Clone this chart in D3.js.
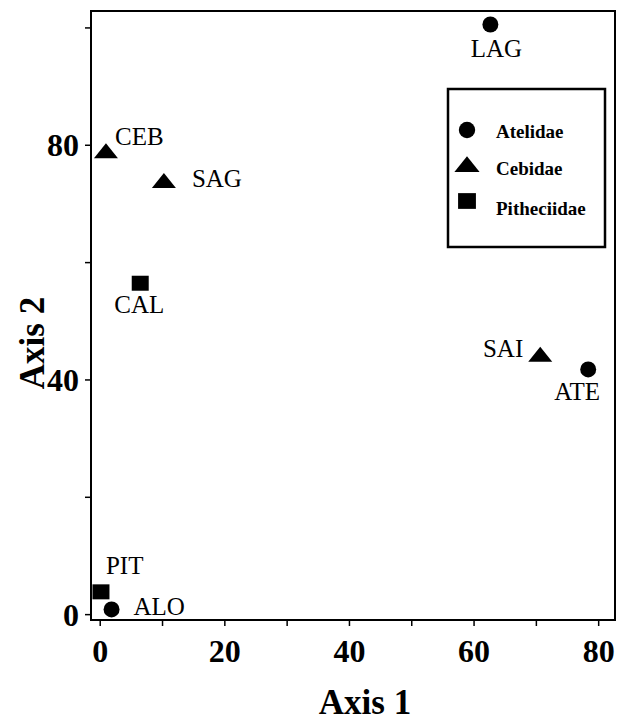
<!DOCTYPE html>
<html>
<head>
<meta charset="utf-8">
<script src="https://cdn.jsdelivr.net/npm/d3@7"></script>
<style>
  body { margin: 0; background: #fff; }
  svg { display: block; }
  text { font-family: "Liberation Serif", "Times New Roman", serif; }
</style>
</head>
<body>
<svg width="617" height="724"></svg>
<script>
"use strict";

// genera codes, axis 1 / axis 2 scores and family
var codes    = ["LAG", "CEB", "SAG", "CAL", "SAI", "ATE", "PIT", "ALO"];
var axis1    = [62.7, 1.0, 10.3, 6.5, 70.7, 78.4, 0.2, 1.9];
var axis2    = [100.5, 79.0, 73.9, 56.4, 44.3, 41.7, 3.8, 0.8];
var family   = ["Atelidae", "Cebidae", "Cebidae", "Pitheciidae", "Cebidae", "Atelidae", "Pitheciidae", "Atelidae"];
var families = ["Atelidae", "Cebidae", "Pitheciidae"];
var xTicks   = [0, 10, 20, 30, 40, 50, 60, 70, 80];
var xLabels  = [0, 20, 40, 60, 80];
var yTicks   = [0, 20, 40, 60, 80, 100];
var yLabels  = [0, 40, 80];

// where each code label sits next to its marker
var labelPlace = {
    LAG: [6, 33, "middle"], CEB: [9, -6, "start"], SAG: [28, 6, "start"],
    CAL: [-1, 30, "middle"], SAI: [-17, 3, "end"], ATE: [-11, 31, "middle"],
    PIT: [5, -18, "start"], ALO: [22, 6, "start"]
};

var serif = "Liberation Serif";
var svg = d3.select("svg");

var x = d3.scaleLinear().domain([-1.4, 82.7]).range([91, 615]);
var y = d3.scaleLinear().domain([-1, 102.8]).range([620, 11]);

// marker shapes
function shape(f, s) {
    s = s || 1;
    if (f === "Atelidae") return d3.symbol().type(d3.symbolCircle).size(200 * s)();
    if (f === "Cebidae") {
        var w = 12 * s, h = 7.5 * s;
        return "M" + (-w) + "," + h + "L0," + (-h) + "L" + w + "," + h + "Z";
    }
    var a = 8.5 * s, b = 7.5 * s;
    return "M" + (-a) + "," + (-b) + "H" + a + "V" + b + "H" + (-a) + "Z";
}

// frame
svg.append("rect")
    .attr("x", x.range()[0]).attr("y", y.range()[1])
    .attr("width", x.range()[1] - x.range()[0])
    .attr("height", y.range()[0] - y.range()[1])
    .attr("fill", "none").attr("stroke", "#000").attr("stroke-width", 2);

// axes
var xAxis = svg.append("g").attr("transform", "translate(0," + y.range()[0] + ")")
    .call(d3.axisBottom(x).tickValues(xTicks).tickSize(6).tickSizeOuter(0)
        .tickFormat(function(d){ return xLabels.indexOf(d) >= 0 ? d : ""; }));
xAxis.select(".domain").remove();
xAxis.selectAll("line").attr("stroke-width", 1.5);
xAxis.selectAll("text").attr("font-family", serif).attr("font-weight", "bold")
    .attr("font-size", 32).attr("y", 42).attr("dy", 0);

var yAxis = svg.append("g").attr("transform", "translate(" + x.range()[0] + ",0)")
    .call(d3.axisLeft(y).tickValues(yTicks).tickSize(6).tickSizeOuter(0)
        .tickFormat(function(d){ return yLabels.indexOf(d) >= 0 ? d : ""; }));
yAxis.select(".domain").remove();
yAxis.selectAll("line").attr("stroke-width", 1.5);
yAxis.selectAll("text").attr("font-family", serif).attr("font-weight", "bold")
    .attr("font-size", 32).attr("x", -12).attr("dy", "0.34em");

// axis titles
svg.append("text").attr("x", 365).attr("y", 714)
    .attr("text-anchor", "middle").attr("font-family", serif)
    .attr("font-weight", "bold").attr("font-size", 35)
    .text("Axis 1");
svg.append("text").attr("transform", "translate(44,343) rotate(-90)")
    .attr("text-anchor", "middle").attr("font-family", serif)
    .attr("font-weight", "bold").attr("font-size", 35)
    .text("Axis 2");

// points
var pts = codes.map(function(c, i){ return {code: c, a1: axis1[i], a2: axis2[i], fam: family[i]}; });

svg.selectAll("path.pt").data(pts).enter().append("path")
    .attr("class", "pt")
    .attr("transform", function(d){ return "translate(" + x(d.a1) + "," + y(d.a2) + ")"; })
    .attr("d", function(d){ return shape(d.fam); })
    .attr("fill", "#000");

svg.selectAll("text.lab").data(pts).enter().append("text")
    .attr("class", "lab")
    .attr("x", function(d){ return x(d.a1) + labelPlace[d.code][0]; })
    .attr("y", function(d){ return y(d.a2) + labelPlace[d.code][1]; })
    .attr("text-anchor", function(d){ return labelPlace[d.code][2]; })
    .attr("font-family", serif)
    .attr("font-size", 25)
    .text(function(d){ return d.code; });

// legend
var leg = svg.append("g");
leg.append("rect").attr("x", 448).attr("y", 89).attr("width", 157).attr("height", 158)
    .attr("fill", "#fff").attr("stroke", "#000").attr("stroke-width", 2.5);
var legY = [130, 164, 201];
families.forEach(function(f, i){
    leg.append("path").attr("transform", "translate(467," + legY[i] + ")")
        .attr("d", shape(f, 1.05)).attr("fill", "#000");
    leg.append("text").attr("x", 496).attr("y", legY[i] + 8 + i * 3)
        .attr("font-family", serif)
        .attr("font-weight", "bold").attr("font-size", 19).text(f);
});
</script>
</body>
</html>
